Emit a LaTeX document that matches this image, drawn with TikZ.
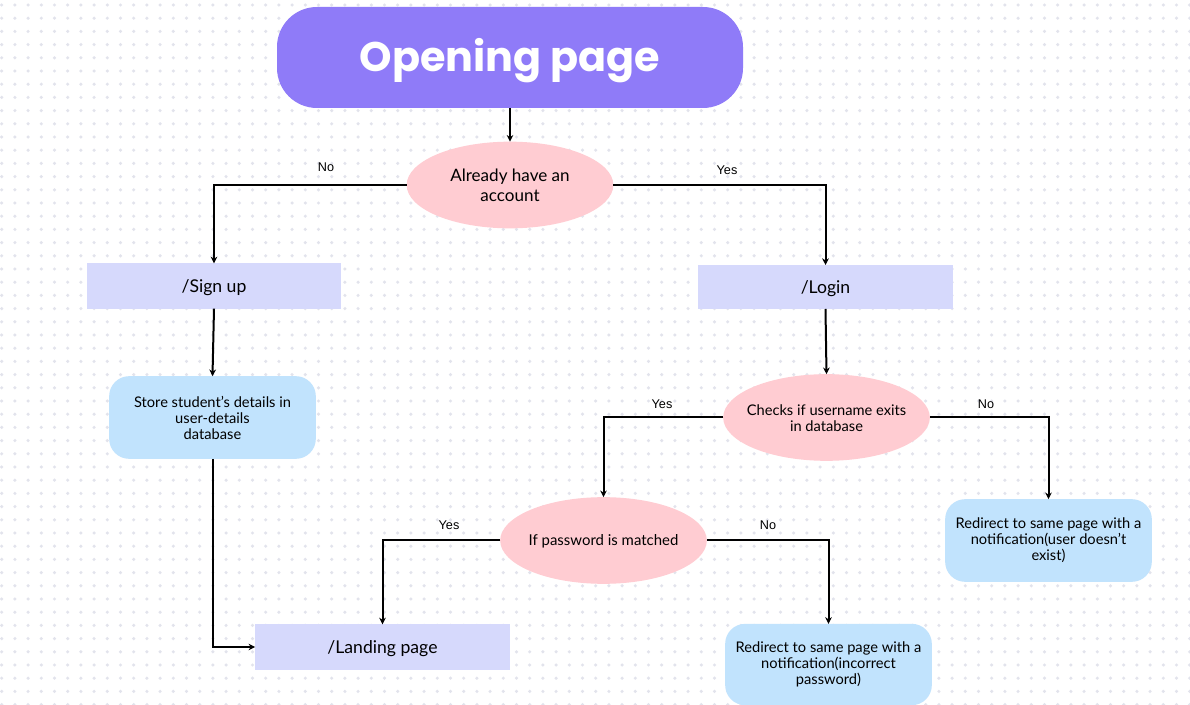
\documentclass[tikz,border=0pt]{standalone}
\usepackage{fontspec}
\setmainfont{Lato}
\newfontfamily\titlefont{Poppins}
\newfontfamily\labfont{Liberation Sans}
\usetikzlibrary{shapes.geometric,arrows.meta}
\definecolor{purp}{RGB}{143,123,248}
\definecolor{pinkq}{RGB}{255,204,210}
\definecolor{lavbox}{RGB}{214,217,252}
\definecolor{bluebox}{RGB}{193,227,253}
\definecolor{dotc}{RGB}{226,227,236}
\begin{document}
\begin{tikzpicture}[x=0.75pt,y=-0.75pt,
  every node/.style={inner sep=0pt, outer sep=0pt, align=center, text=black},
  titlebox/.style={rectangle, rounded corners=30pt, fill=purp, minimum width=349.5pt, minimum height=75.75pt,
     font=\titlefont\bfseries\fontsize{31}{36}\selectfont, text=white, text height=21.5pt, text depth=0pt},
  question/.style={ellipse, fill=pinkq, minimum width=155pt, minimum height=65pt},
  qtext/.style={font=\fontsize{11}{12}\selectfont},
  routebox/.style={rectangle, fill=lavbox, minimum width=191pt, minimum height=34pt,
     font=\fontsize{13.2}{15}\selectfont, text height=9.4pt, text depth=0pt},
  infobox/.style={rectangle, rounded corners=15pt, fill=bluebox, minimum width=155pt, minimum height=62pt,
     font=\fontsize{11}{12}\selectfont},
  lbl/.style={font=\labfont\fontsize{9.5}{11}\selectfont},
  conn/.style={line width=1.5pt, -{Stealth[length=5pt,width=5pt]}}
]
\fill[white] (0,0) rectangle (1190,705);
\useasboundingbox (0,0) rectangle (1190,705);
\foreach \j in {0,...,53}
  \draw[dotc, line width=2.6pt, line cap=round, dash pattern=on 0pt off 9.9pt] (1.7,{5+13.2*\j}) -- (1190,{5+13.2*\j});

\node[titlebox] (open) at (510,57.5) {Opening page};
\node[question] (q1) at (510,185) {};
\node[qtext, font=\fontsize{12.8}{15}\selectfont] (q1t) at (510,185) {Already have an\\account};
\node[routebox] (signup) at (214,286) {/Sign up};
\node[routebox, minimum height=33pt] (login) at (825.5,287) {/Login};
\node[infobox] (store) at (212.5,417.5) {Store student’s details in\\user-details\\database};
\node[routebox] (landing) at (382.5,647) {/Landing page};
\node[question] (q2) at (826.5,417.5) {};
\node[qtext] (q2t) at (826.5,418) {Checks if username exits\\in database};
\node[infobox] (nouser) at (1048.5,540.5) {Redirect to same page with a\\notification(user doesn’t\\exist)};
\node[question] (q3) at (603.5,540.5) {};
\node[qtext, font=\fontsize{11.2}{12}\selectfont] (q3t) at (603.5,541) {If password is matched};
\node[infobox, minimum height=61pt] (wrongpw) at (828.5,664.5) {Redirect to same page with a\\notification(incorrect\\password)};

\node[lbl] (l1) at (326,167) {No};
\node[lbl] (l2) at (727,170) {Yes};
\node[lbl] (l3) at (662,404) {Yes};
\node[lbl] (l4) at (986,404) {No};
\node[lbl] (l5) at (449,525) {Yes};
\node[lbl] (l6) at (768,525) {No};

\draw[conn] (open.south) -- (q1.north);
\draw[conn] (q1.west) -| (signup.north);
\draw[conn] (q1.east) -| (login.north);
\draw[conn] (signup.south) -- (store.north);
\draw[conn] (store.south) |- (landing.west);
\draw[conn] (login.south) -- (q2.north);
\draw[conn] (q2.west) -| (q3.north);
\draw[conn] (q2.east) -| (nouser.north);
\draw[conn] (q3.west) -| (landing.north);
\draw[conn] (q3.east) -| (wrongpw.north);
\end{tikzpicture}
\end{document}
